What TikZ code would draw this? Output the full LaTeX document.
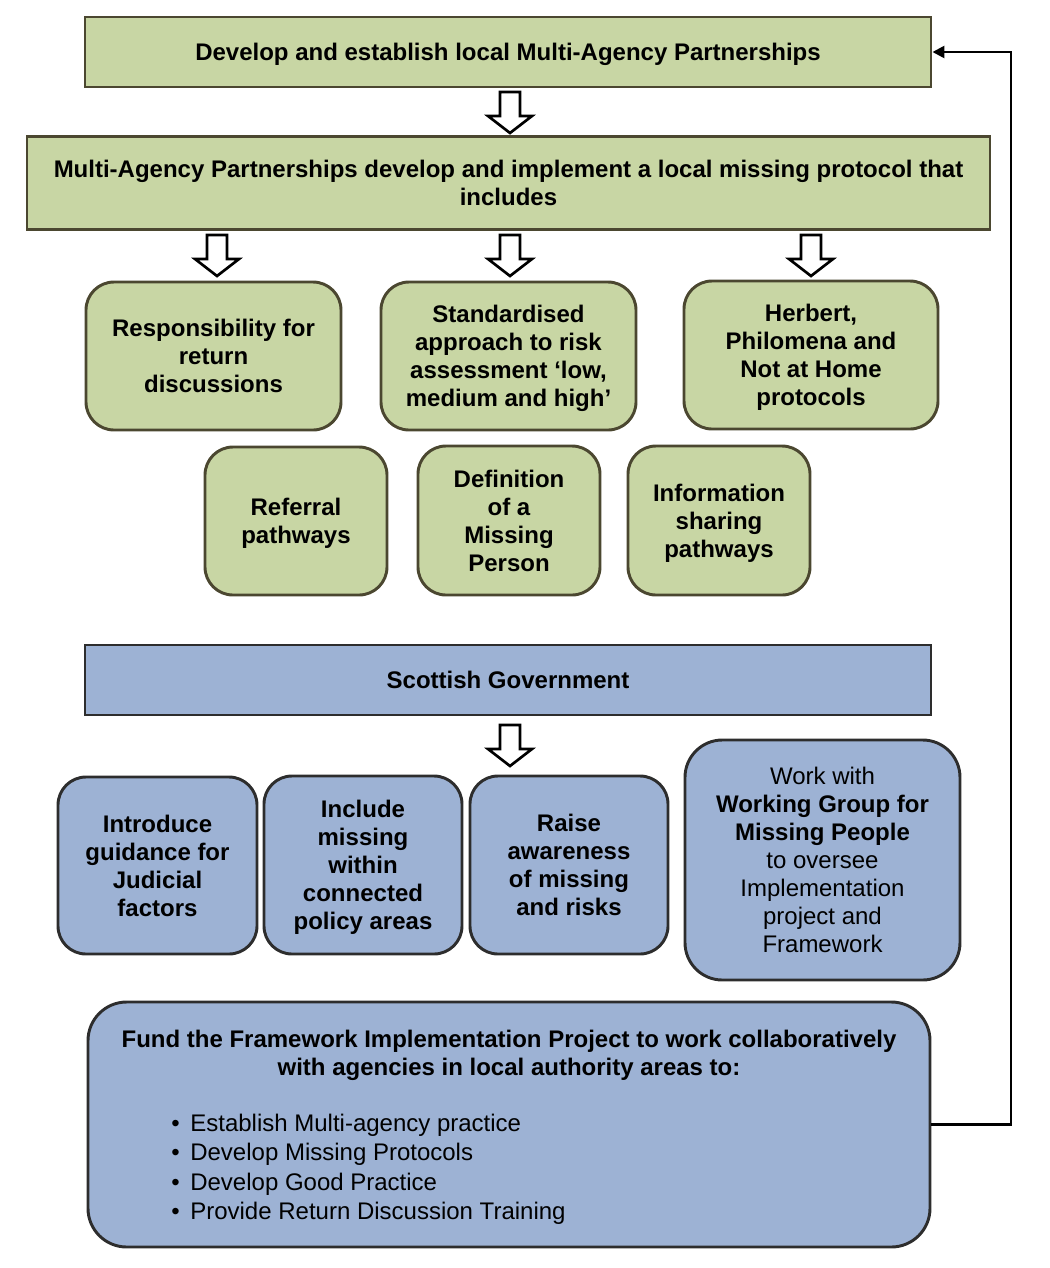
\documentclass[tikz,border=0pt]{standalone}
\usepackage{fontspec}
\setmainfont{Liberation Sans}
\usetikzlibrary{arrows.meta}
\definecolor{gfill}{HTML}{C8D6A4}
\definecolor{gdraw}{HTML}{4B4730}
\definecolor{bfill}{HTML}{9DB2D4}
\definecolor{bdraw}{HTML}{2D2D2D}
\tikzset{
  txt/.style={font=\fontsize{18}{21}\selectfont, align=center, inner sep=0pt},
  sz/.style 2 args={minimum width=#1*0.75pt, minimum height=#2*0.75pt},
  gbox/.style={txt, font=\fontsize{18}{21}\selectfont\bfseries, draw=gdraw, fill=gfill, line width=2.2pt, text depth=0pt},
  bbox/.style={txt, font=\fontsize{18}{21}\selectfont\bfseries, draw=bdraw, fill=bfill, line width=2.2pt, text depth=0pt},
  rbox/.style={rounded corners=21pt},
  hollow/.pic={\draw[line width=2pt, fill=white, line join=miter]
     (-10,0) -- (10,0) -- (10,24) -- (22,24) -- (0,41) -- (-22,24) -- (-10,24) -- cycle;},
  feedback/.style={line width=1.9pt, -{Triangle[length=9pt,width=9pt]}},
  listitem/.style={font=\fontsize{18}{22}\selectfont, anchor=base west, inner sep=0pt}
}
\begin{document}
\begin{tikzpicture}[x=0.75pt, y=-0.75pt]
\useasboundingbox (0,0) rectangle (1050,1268);

% top green
\node[gbox, sz={846}{70}] (top) at (508,52) {Develop and establish local Multi-Agency Partnerships};
\pic at (510,92) {hollow};
\node[gbox, sz={963}{93}] (mid) at (508.5,183) {Multi-Agency Partnerships develop and implement a local missing protocol that\\includes};
\pic at (217,235) {hollow};
\pic at (510,235) {hollow};
\pic at (811,235) {hollow};

\node[gbox, rbox, sz={255}{148}] (a) at (213.5,356) {Responsibility for\\return\\discussions};
\node[gbox, rbox, sz={255}{148}] (b) at (508.5,356) {Standardised\\approach to risk\\assessment ‘low,\\medium and high’};
\node[gbox, rbox, sz={254}{148}] (c) at (811,355) {Herbert,\\Philomena and\\Not at Home\\protocols};
\node[gbox, rbox, sz={182}{148}] (d) at (296,521) {Referral\\pathways};
\node[gbox, rbox, sz={182}{149}] (e) at (509,520.5) {Definition\\of a\\Missing\\Person};
\node[gbox, rbox, sz={182}{149}] (f) at (719,520.5) {Information\\sharing\\pathways};

% blue
\node[bbox, sz={846}{70}] (sg) at (508,680) {Scottish Government};
\pic at (510,725) {hollow};

\node[bbox, rbox, sz={199}{177}] (g) at (157.5,865.5) {Introduce\\guidance for\\Judicial\\factors};
\node[bbox, rbox, sz={198}{178}] (h) at (363,865) {Include\\missing\\within\\connected\\policy areas};
\node[bbox, rbox, sz={198}{178}] (i) at (569,865) {Raise\\awareness\\of missing\\and risks};
\node[bbox, rounded corners=28pt, sz={275}{240}, font=\fontsize{18}{21}\selectfont] (j) at (822.5,860)
  {Work with\\\textbf{Working Group for}\\\textbf{Missing People}\\to oversee\\Implementation\\project and\\Framework};

\node[bbox, rounded corners=29pt, sz={842}{245}] (k) at (509,1124.5) {};
\node[txt, font=\fontsize{18}{21}\selectfont\bfseries] (ktitle) at (509,1055)
  {Fund the Framework Implementation Project to work collaboratively\\with agencies in local authority areas to:};
\node[listitem] (k1) at (171,1131) {•\hspace{8pt}Establish Multi-agency practice};
\node[listitem] (k2) at (171,1160) {•\hspace{8pt}Develop Missing Protocols};
\node[listitem] (k3) at (171,1190) {•\hspace{8pt}Develop Good Practice};
\node[listitem] (k4) at (171,1219) {•\hspace{8pt}Provide Return Discussion Training};

% feedback loop
\coordinate (fb) at (1011,52);
\draw[feedback] (k.east) -| (fb) -- (top.east);
\end{tikzpicture}
\end{document}
